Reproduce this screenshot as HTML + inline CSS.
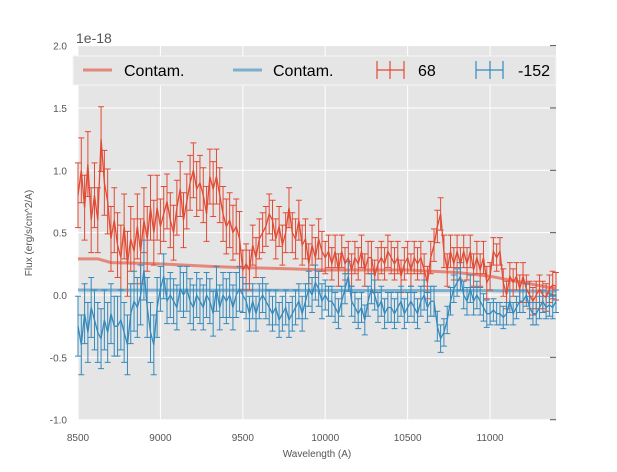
<!DOCTYPE html>
<html><head><meta charset="utf-8"><style>
body{margin:0;background:#fff;}
svg text{font-family:"Liberation Sans",sans-serif;}
</style></head><body>
<svg id="chart" width="617" height="467" xmlns="http://www.w3.org/2000/svg">
<rect x="78" y="46" width="478" height="374" fill="#e5e5e5"/>
<g id="grid"></g>
<g id="series"></g>
<g id="axes"></g>
<text x="76" y="43" font-size="14" fill="#555">1e-18</text>
<text transform="translate(32,233) rotate(-90)" text-anchor="middle" font-size="10" fill="#555">Flux (erg/s/cm^2/A)</text>
<text x="317" y="457" text-anchor="middle" font-size="10" fill="#555">Wavelength (A)</text>
<g>
<rect x="73" y="56" width="483" height="29" fill="#e5e5e5" stroke="#f5f5f5" stroke-width="1"/>
<g><line x1="83" y1="70" x2="112" y2="70" stroke="#E24A33" stroke-opacity="0.6" stroke-width="3"/><text x="124" y="76" font-size="16" fill="#000">Contam.</text></g>
<g><line x1="233" y1="70" x2="262" y2="70" stroke="#348ABD" stroke-opacity="0.6" stroke-width="3"/><text x="273" y="76" font-size="16" fill="#000">Contam.</text></g>
<g stroke="#E24A33" stroke-width="1.2"><line x1="377" y1="70" x2="404" y2="70"/><line x1="390" y1="61" x2="390" y2="79"/><line x1="377" y1="61" x2="377" y2="79"/><line x1="404" y1="61" x2="404" y2="79"/><text x="418" y="76" font-size="16" fill="#000" stroke="none">68</text></g>
<g stroke="#348ABD" stroke-width="1.2"><line x1="476" y1="70" x2="503" y2="70"/><line x1="490" y1="61" x2="490" y2="79"/><line x1="476" y1="61" x2="476" y2="79"/><line x1="503" y1="61" x2="503" y2="79"/><text x="518" y="76" font-size="16" fill="#000" stroke="none">-152</text></g>
</g>
</svg>
<script>
const xTicks=[8500,9000,9500,10000,10500,11000];
const yTicks=[-1.0,-0.5,0.0,0.5,1.0,1.5,2.0];
const wave=[];for(let w=8500;w<=11400;w+=20)wave.push(w);
const fluxRed=[0.80,1.00,0.70,1.05,0.60,0.80,0.60,1.25,0.90,0.75,0.45,0.60,0.40,0.30,0.55,0.25,0.45,0.35,0.55,0.35,0.60,0.45,0.70,0.50,0.70,0.55,0.65,0.75,0.60,0.50,0.70,0.85,0.60,0.75,0.90,1.00,0.85,0.90,0.80,0.65,0.95,0.85,0.95,0.80,0.65,0.55,0.60,0.50,0.55,0.45,0.20,0.25,0.20,0.40,0.30,0.45,0.50,0.55,0.65,0.60,0.45,0.55,0.40,0.50,0.70,0.50,0.45,0.60,0.40,0.45,0.25,0.40,0.30,0.45,0.35,0.30,0.35,0.25,0.35,0.20,0.35,0.25,0.30,0.20,0.30,0.25,0.35,0.20,0.30,0.30,0.15,0.25,0.30,0.25,0.35,0.30,0.25,0.30,0.15,0.25,0.30,0.20,0.30,0.25,0.30,0.20,0.10,0.30,0.40,0.55,0.65,0.35,0.20,0.35,0.25,0.35,0.25,0.35,0.25,0.35,0.20,0.30,0.20,0.30,0.10,0.15,0.35,0.30,0.35,0.10,0.00,0.15,0.10,0.15,0.05,0.15,0.05,0.00,-0.05,0.00,0.05,0.00,-0.02,0.05,0.08,0.07];
const fluxBlue=[-0.25,-0.40,-0.15,-0.30,-0.10,-0.20,-0.30,-0.35,-0.20,-0.30,-0.15,-0.25,-0.25,-0.20,-0.30,-0.40,-0.15,-0.05,-0.10,0.00,0.20,-0.10,-0.30,-0.40,-0.10,0.05,0.15,-0.05,0.00,-0.05,-0.10,0.05,0.00,0.05,-0.05,-0.10,0.00,-0.05,-0.10,0.00,-0.05,-0.15,0.05,-0.10,0.00,-0.05,0.00,-0.10,0.00,0.05,0.00,-0.05,-0.15,-0.05,-0.15,-0.05,0.00,-0.05,-0.10,-0.15,-0.10,-0.20,-0.15,-0.10,-0.20,-0.15,-0.10,-0.05,-0.15,-0.05,0.05,0.00,0.10,0.05,-0.05,0.00,-0.05,-0.05,-0.10,-0.15,-0.05,0.05,0.15,-0.05,-0.10,-0.15,-0.10,-0.20,-0.05,0.05,0.00,-0.10,-0.05,-0.15,-0.10,-0.10,-0.15,-0.10,-0.05,-0.15,-0.10,-0.05,-0.10,-0.15,-0.05,0.00,-0.10,-0.05,-0.05,-0.25,-0.35,-0.30,-0.20,-0.05,0.05,0.10,0.15,0.00,-0.05,0.05,-0.05,0.00,-0.05,-0.10,-0.15,-0.15,-0.12,-0.15,-0.15,-0.18,-0.15,-0.05,-0.15,-0.10,-0.05,-0.05,0.00,-0.10,-0.15,-0.15,-0.10,-0.05,-0.10,-0.08,-0.10,-0.05];
const errSegStart=[8500,9000,9500,10000,10700,11000];
const errRed=[0.26,0.22,0.16,0.13,0.13,0.11];
const errBlue=[0.24,0.18,0.14,0.12,0.11,0.09];
const contamWave=[8500,8620,8700,9000,9300,9500,9800,10000,10500,10800,11000,11200,11400];
const contamRed=[0.29,0.29,0.26,0.25,0.23,0.22,0.21,0.20,0.20,0.18,0.15,0.10,0.05];
const contamBlueWave=[8500,11000,11400];
const contamBlue=[0.04,0.035,0.03];

const X=w=>78+(w-8500)*(478/2900);
const Y=v=>295-v*124.7;
const NS="http://www.w3.org/2000/svg";
function mk(parent,tag,attrs){const e=document.createElementNS(NS,tag);for(const k in attrs)e.setAttribute(k,attrs[k]);document.getElementById(parent).appendChild(e);return e;}
function errAt(w,arr){let v=arr[0];for(let i=0;i<errSegStart.length;i++)if(w>=errSegStart[i])v=arr[i];return v;}
xTicks.forEach(t=>{
 const g=mk('grid','line',{x1:X(t),x2:X(t),y1:46,y2:420,stroke:'#fff','stroke-width':1});
 
 
 const l=mk('axes','text',{x:X(t),y:441,'text-anchor':'middle','font-size':10,fill:'#555'});l.textContent=t;
 
 
});
yTicks.forEach(t=>{
 const g=mk('grid','line',{x1:78,x2:556,y1:Y(t),y2:Y(t),stroke:'#fff','stroke-width':1});
 
 
 const l=mk('axes','text',{x:67,y:Y(t)+4,'text-anchor':'end','font-size':10,fill:'#555'});l.textContent=t.toFixed(1);
 
 
 const tk=mk('axes','line',{x1:550,x2:556,y1:Y(t),y2:Y(t),stroke:'#555'});
 
 
});
function poly(ws,vs,color,width,op,name){
 const p=mk('series','polyline',{points:ws.map((w,i)=>X(w)+','+Y(vs[i])).join(' '),fill:'none',stroke:color,'stroke-width':width,'stroke-opacity':op});
 
 
}
function errs(vs,earr,color,name){
 wave.forEach((w,i)=>{const e=errAt(w,earr),x=X(w),y1=Y(vs[i]-e),y2=Y(vs[i]+e);
  const b=mk('series','path',{d:`M${x},${y1}V${y2}M${x-3},${y1}H${x+3}M${x-3},${y2}H${x+3}`,stroke:color,'stroke-width':1,fill:'none'});
  
  
 });
}
poly(contamWave,contamRed,'#E24A33',3,0.6,'contam-line-red');
poly(contamBlueWave,contamBlue,'#348ABD',3,0.6,'contam-line-blue');
errs(fluxRed,errRed,'#E24A33','errorbar-68');
errs(fluxBlue,errBlue,'#348ABD','errorbar-152');
poly(wave,fluxRed,'#E24A33',1.3,1,'flux-line-68');
poly(wave,fluxBlue,'#348ABD',1.3,1,'flux-line-152');
</script>
</body></html>
